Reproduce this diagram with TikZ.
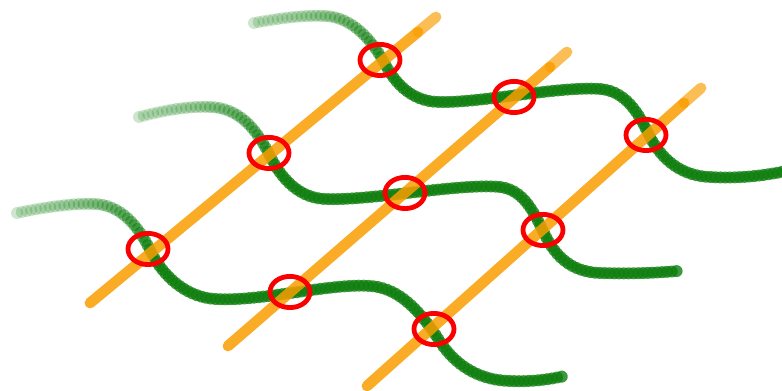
\documentclass[tikz,border=0pt]{standalone}
\usetikzlibrary{decorations.markings,shapes.geometric}
\definecolor{leaf}{RGB}{14,126,14}
\definecolor{amber}{RGB}{249,158,0}
\definecolor{ringred}{RGB}{250,0,0}
\tikzset{
  brush/.style={postaction={decorate},decoration={markings,
     mark=between positions 0 and 1 step 1.2pt with {
        \pgfmathsetmacro{\op}{min(0.8,0.2+0.6*(\pgfkeysvalueof{/pgf/decoration/mark info/sequence number}/36)^2)}
        \fill[leaf, opacity=\op] (0,0) circle (1.5pt);}}},
  bar/.style={draw=amber, line width=2.7pt, line cap=round, opacity=0.85},
  bartip/.style={draw=amber!78, line width=2.7pt, line cap=round, opacity=0.85},
  ring/.style={ellipse, draw=ringred, line width=1.2pt, minimum width=10pt, minimum height=7.8pt, inner sep=0pt}
}
\begin{document}
\begin{tikzpicture}[x=0.25pt,y=-0.25pt]
\useasboundingbox (0,0) rectangle (782,391);
% green wavy strands
\path[brush] (254,23) .. controls (280,18) and (305,15) .. (325,16)
  .. controls (352,17) and (372,40) .. (385,64)
  .. controls (397,87) and (415,102) .. (440,102)
  .. controls (480,103) and (560,86) .. (600,89)
  .. controls (625,91) and (638,112) .. (648,133)
  .. controls (660,158) and (680,176) .. (710,177)
  .. controls (740,179) and (770,175) .. (790,170);
\path[brush] (139,117) .. controls (165,110) and (190,106) .. (210,107)
  .. controls (240,108) and (257,130) .. (270,156)
  .. controls (282,180) and (300,198) .. (325,199)
  .. controls (370,201) and (460,183) .. (500,187)
  .. controls (525,190) and (535,215) .. (545,235)
  .. controls (555,255) and (570,272) .. (600,273)
  .. controls (630,274) and (655,273) .. (678,271);
\path[brush] (17,213) .. controls (45,207) and (75,203) .. (95,204)
  .. controls (120,205) and (138,225) .. (150,250)
  .. controls (162,275) and (185,297) .. (215,299)
  .. controls (260,302) and (330,283) .. (370,286)
  .. controls (400,288) and (420,312) .. (437,337)
  .. controls (452,362) and (475,380) .. (510,381)
  .. controls (535,382) and (550,379) .. (565,376);
% orange bars
\coordinate (b1s) at (90,303);  \coordinate (b1m) at (418,32);  \coordinate (b1e) at (436,17);
\coordinate (b2s) at (228,346); \coordinate (b2m) at (550,67);  \coordinate (b2e) at (567,52);
\coordinate (b3s) at (367,386); \coordinate (b3m) at (684,103); \coordinate (b3e) at (701,88);
\draw[bartip] (b1m) -- (b1e);
\draw[bartip] (b2m) -- (b2e);
\draw[bartip] (b3m) -- (b3e);
\draw[bar] (b1s) -- (b1m);
\draw[bar] (b2s) -- (b2m);
\draw[bar] (b3s) -- (b3m);
% red rings
\node[ring] (r1) at (380,60) {};
\node[ring] (r2) at (514,97) {};
\node[ring] (r3) at (646,135) {};
\node[ring] (r4) at (269,153) {};
\node[ring] (r5) at (405,193) {};
\node[ring] (r6) at (543,230) {};
\node[ring] (r7) at (148,249) {};
\node[ring] (r8) at (290,292) {};
\node[ring] (r9) at (434,329) {};
\end{tikzpicture}
\end{document}
